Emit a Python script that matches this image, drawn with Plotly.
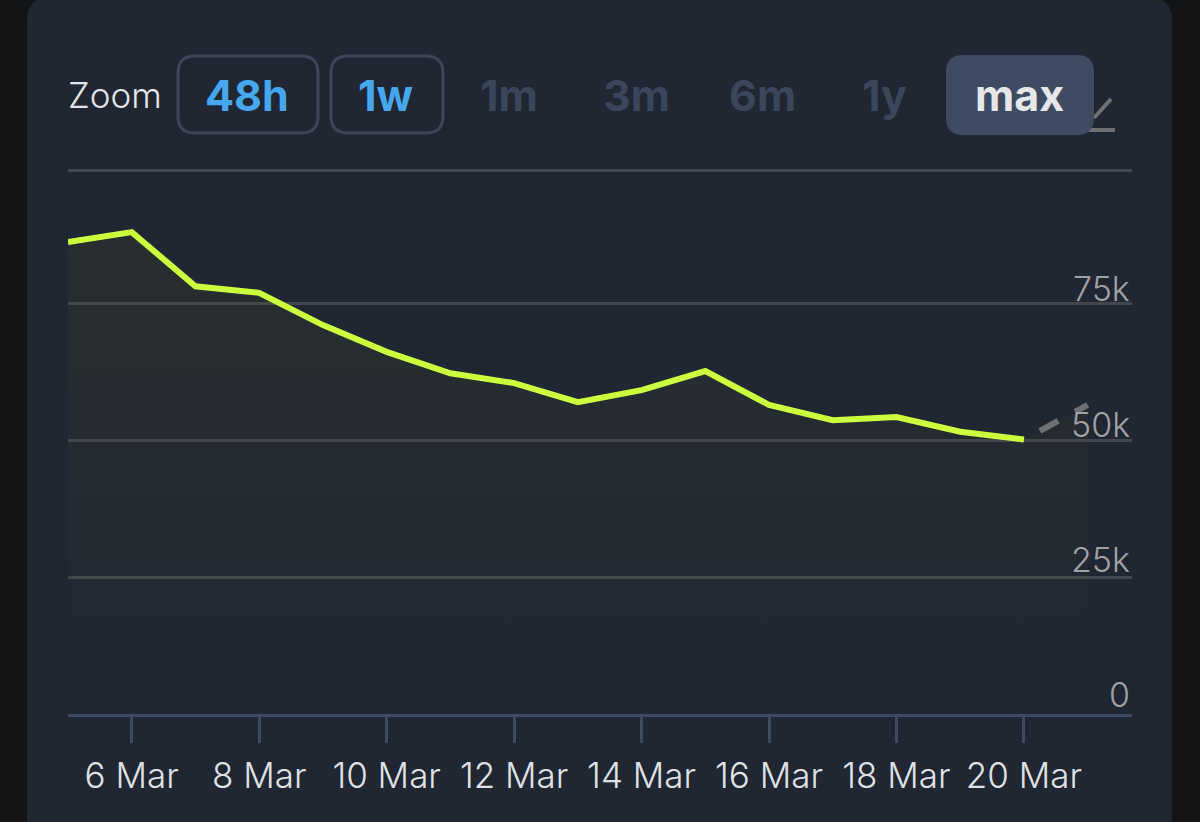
import plotly.graph_objects as go

# values
dates = ["2024-03-05", "2024-03-06", "2024-03-07", "2024-03-08", "2024-03-09", "2024-03-10",
         "2024-03-11", "2024-03-12", "2024-03-13", "2024-03-14", "2024-03-15", "2024-03-16",
         "2024-03-17", "2024-03-18", "2024-03-19", "2024-03-20"]
values = [86300, 88100, 78200, 77000, 71100, 66200, 62300, 60500,
          57000, 59200, 62700, 56500, 53700, 54300, 51600, 50200]
forecast_dates = ["2024-03-20", "2024-03-21"]
forecast_values = [50200, 56500]

x_ticks = ["2024-03-06", "2024-03-08", "2024-03-10", "2024-03-12",
           "2024-03-14", "2024-03-16", "2024-03-18", "2024-03-20"]
x_labels = ["6 Mar", "8 Mar", "10 Mar", "12 Mar", "14 Mar", "16 Mar", "18 Mar", "20 Mar"]
y_ticks = [0, 25000, 50000, 75000, 99300]
y_labels = ["0", "25k", "50k", "75k"]
y_label_shift = [-2, -4, -5, -6]

W, H = 1200, 822
CARD = "#202632"
FONT = "Inter, Roboto, sans-serif"


def px(x):
    return x / W


def py(y):
    return 1 - y / H


def rounded(x0, y0, x1, y1, r):
    # rounded rect path, in figure fractions
    pts = [
        f"M{px(x0 + r)},{py(y0)}", f"L{px(x1 - r)},{py(y0)}",
        f"Q{px(x1)},{py(y0)} {px(x1)},{py(y0 + r)}", f"L{px(x1)},{py(y1 - r)}",
        f"Q{px(x1)},{py(y1)} {px(x1 - r)},{py(y1)}", f"L{px(x0 + r)},{py(y1)}",
        f"Q{px(x0)},{py(y1)} {px(x0)},{py(y1 - r)}", f"L{px(x0)},{py(y0 + r)}",
        f"Q{px(x0)},{py(y0)} {px(x0 + r)},{py(y0)}", "Z",
    ]
    return " ".join(pts)


fade = dict(
    type="vertical",
    colorscale=[[0, "rgba(70,80,40,0)"], [0.1, "rgba(70,80,40,0.03)"], [1, "rgba(75,80,35,0.2)"]],
    start=0,
    stop=90000,
)

fig = go.Figure()
fig.add_trace(go.Scatter(x=forecast_dates, y=forecast_values, mode="lines", fill="tozeroy",
                         fillgradient=fade,
                         line=dict(color="#6f7074", width=6, dash="0px 18px 21px 19px 21px")))
fig.add_trace(go.Scatter(x=dates, y=values, mode="lines", fill="tozeroy", fillgradient=fade,
                         line=dict(color="#ccff3e", width=6)))


def box(path, **kw):
    return dict(type="path", path=path, xref="paper", yref="paper", **kw)


def stroke(x0, y0, x1, y1):
    return dict(type="line", xref="paper", yref="paper", x0=px(x0), x1=px(x1), y0=py(y0), y1=py(y1),
                line=dict(color="#6f7074", width=4))


shapes = [
    box(rounded(27, -2, 1172, 860, 22), fillcolor=CARD, line_width=0, layer="below"),
    # icon peeking out from behind the max button
    stroke(1087, 130, 1115, 130),
    stroke(1094, 118, 1111, 99),
    # range buttons
    box(rounded(178, 56, 318, 133, 17), line=dict(color="#3e4759", width=3)),
    box(rounded(331, 56, 443, 133, 17), line=dict(color="#3e4759", width=3)),
    box(rounded(946, 55, 1094, 135, 17), fillcolor="#3e4b63", line_width=0),
]


def label(text, x, y, color, size, weight=700):
    return dict(text=text, x=px(x), y=py(y), xref="paper", yref="paper", showarrow=False,
                xanchor="center", yanchor="middle",
                font=dict(family=FONT, size=size, color=color, weight=weight))


annotations = [
    label("Zoom", 115, 95, "#e3e5e8", 35, 300),
    label("48h", 247, 95, "#46a7ee", 43),
    label("1w", 385, 95, "#46a7ee", 43),
    label("1m", 509, 95, "#3a465c", 43),
    label("3m", 636, 95, "#3a465c", 43),
    label("6m", 762, 95, "#3a465c", 43),
    label("1y", 884, 95, "#3a465c", 43),
    label("max", 1019, 95, "#e6e7e9", 43),
]
# y labels sit on top of their gridlines, at the right end
for val, text, shift in zip(y_ticks, y_labels, y_label_shift):
    annotations.append(dict(text=text, x=px(1131), y=val, xref="paper", yref="y", showarrow=False,
                            xanchor="right", yanchor="bottom", yshift=shift, borderpad=0,
                            font=dict(family=FONT, size=34, color="#a0a1a5", weight=300)))

fig.update_layout(
    width=W,
    height=H,
    margin=dict(l=0, r=0, t=0, b=0),
    paper_bgcolor="#131416",
    plot_bgcolor="rgba(0,0,0,0)",
    showlegend=False,
    shapes=shapes,
    annotations=annotations,
    xaxis=dict(
        domain=[px(68), px(1132)],
        type="date",
        range=["2024-03-05", "2024-03-21 16:41"],
        tickvals=x_ticks,
        ticktext=x_labels,
        ticks="outside",
        ticklen=26,
        tickwidth=3,
        tickcolor="#3e4a63",
        ticklabelstandoff=3,
        showgrid=False,
        showline=True,
        linecolor="#3e4a63",
        linewidth=3,
        tickfont=dict(family=FONT, size=35, color="#dfe1e5", weight=300),
        zeroline=False,
    ),
    yaxis=dict(
        domain=[py(714), py(169.2)],
        range=[0, 99600],
        tickvals=y_ticks,
        showticklabels=False,
        ticks="",
        gridcolor="#44474f",
        gridwidth=3,
        zeroline=False,
        showline=False,
    ),
)

fig.write_html("out.html", post_script="document.body.style.margin='0';",
               config=dict(displayModeBar=False))
